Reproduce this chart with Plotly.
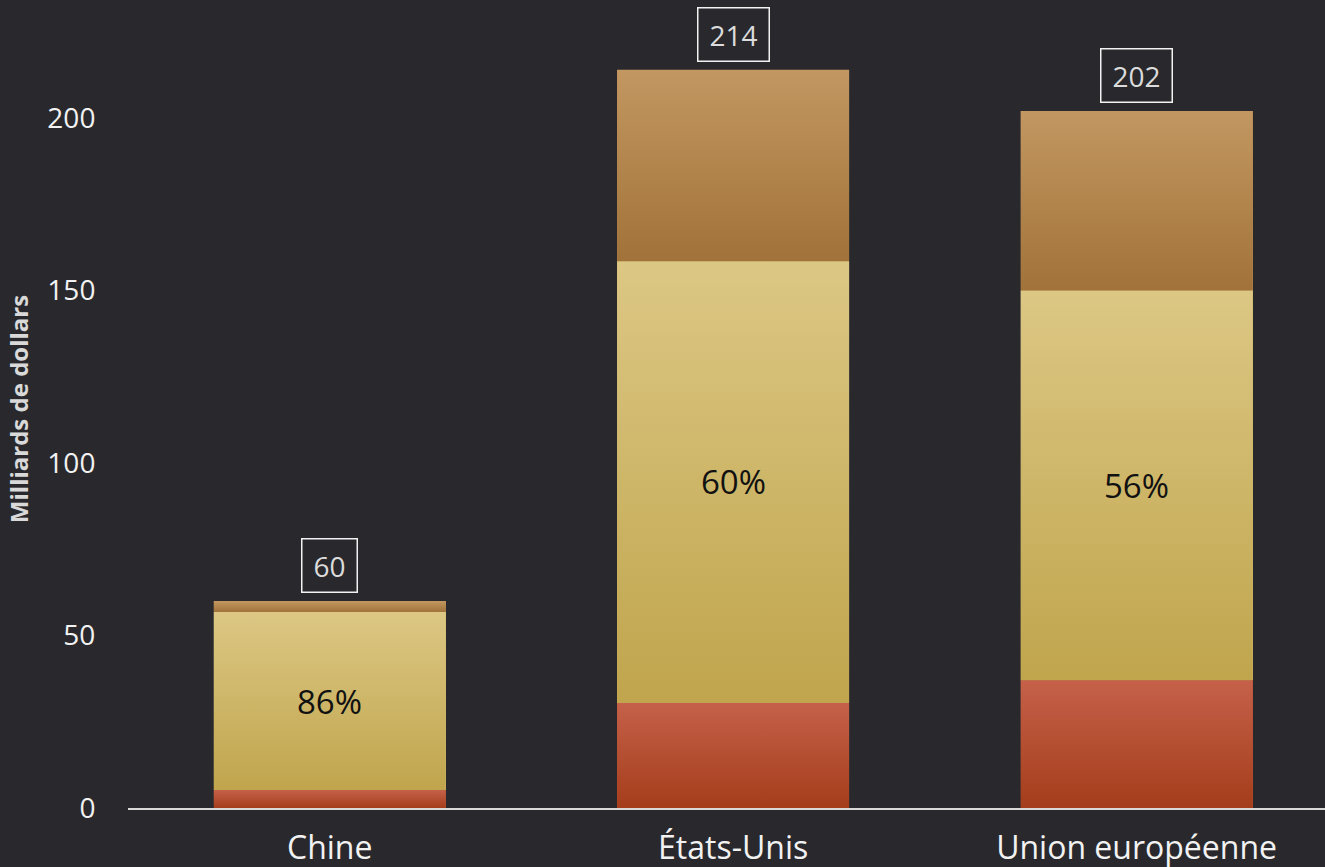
import plotly.graph_objects as go

categories = ["Chine", "États-Unis", "Union européenne"]
bottom_vals = [5.2, 30.5, 37.0]
middle_vals = [51.6, 128.0, 113.0]
top_vals = [3.2, 55.5, 52.0]
totals = [60, 214, 202]
middle_pct = [86, 60, 56]
y_ticks = [0, 50, 100, 150, 200]

BG = "#29292d"
FONT = "Open Sans"
BAR_W = 0.575

series = [
    ("bottom", bottom_vals, "#b44f33", "#a43d1a", "#c5614a"),
    ("middle", middle_vals, "#cdb465", "#c0a54d", "#dcc784"),
    ("top", top_vals, "#b3854c", "#a1733a", "#c39761"),
]

fig = go.Figure()
xs = list(range(len(categories)))

# base bars (solid colour)
for name, vals, mid, _, _ in series:
    fig.add_trace(go.Bar(x=xs, y=vals, name=name, width=BAR_W,
                         marker=dict(color=mid, line=dict(width=0)),
                         hoverinfo="skip", showlegend=False))

# gradient overlays built from the same data
base = [0.0] * len(categories)
for name, vals, mid, c_lo, c_hi in series:
    for i, v in enumerate(vals):
        b0, b1 = base[i], base[i] + v
        x0, x1 = i - BAR_W / 2, i + BAR_W / 2
        fig.add_trace(go.Scatter(
            x=[x0, x1, x1, x0, x0], y=[b0, b0, b1, b1, b0],
            mode="lines", fill="toself", line=dict(width=0),
            fillgradient=dict(type="vertical",
                              colorscale=[[0, c_lo], [1, c_hi]],
                              start=b0, stop=b1),
            hoverinfo="skip", showlegend=False))
    base = [base[i] + vals[i] for i in range(len(vals))]

# percent labels in middle segment
for i, p in enumerate(middle_pct):
    fig.add_annotation(x=i, y=bottom_vals[i] + middle_vals[i] / 2,
                       text=f"{p}%", showarrow=False,
                       font=dict(family=FONT, size=33, color="#111111"))

# total labels in boxes
for i, t in enumerate(totals):
    s = str(t)
    fig.add_annotation(x=i, y=t, text=s, showarrow=False,
                       yanchor="bottom", yshift=8,
                       width=16 * len(s) + 8,
                       font=dict(family=FONT, size=28, color="#dcdcdc"),
                       bordercolor="#f2f2f2", borderwidth=1.5, borderpad=7,
                       bgcolor=BG)

fig.update_layout(
    width=1325, height=867,
    barmode="stack",
    paper_bgcolor=BG, plot_bgcolor=BG,
    margin=dict(l=128, r=0, t=10, b=59),
    showlegend=False,
    xaxis=dict(range=[-0.5, 2.467], tickvals=xs, ticktext=categories,
               showgrid=False, zeroline=False, showline=True,
               linecolor="#d9d9d9", linewidth=2,
               ticks="outside", ticklen=11, tickcolor="rgba(0,0,0,0)",
               tickfont=dict(family=FONT, size=32, color="#f2f2f2")),
    yaxis=dict(range=[0, 231.3], tickvals=y_ticks,
               showgrid=False, zeroline=False, showline=False,
               ticks="outside", ticklen=26, tickcolor="rgba(0,0,0,0)",
               tickfont=dict(family=FONT, size=28, color="#f2f2f2"),
               title=dict(text="<b>Milliards de dollars</b>", standoff=11,
                          font=dict(family=FONT, size=24, color="#d9d9d9"))),
)

fig.write_html(
    "out.html",
    config={"displayModeBar": False},
    post_script="document.body.style.margin='0';"
                "document.body.style.background='" + BG + "';"
                "document.documentElement.style.background='" + BG + "';",
)
